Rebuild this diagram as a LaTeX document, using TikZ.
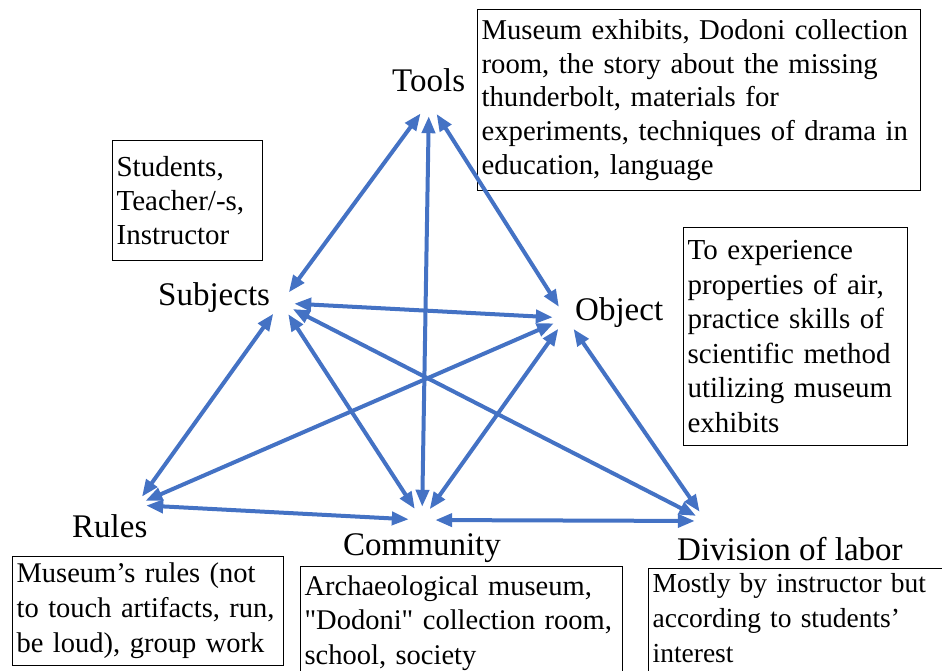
\documentclass[tikz,border=0pt]{standalone}
\usepackage{fontspec}
\setmainfont{Liberation Serif}[Ligatures=TeXOff]
\usetikzlibrary{arrows.meta}
\definecolor{linkblue}{HTML}{4472C4}

\begin{document}
\begin{tikzpicture}[x=1pt, y=-1pt,
  lbl/.style={anchor=base west, inner sep=0pt, font=\fontsize{33}{38}\selectfont},
  infobox/.style={draw, line width=1.2pt, anchor=north west, align=left, inner xsep=4pt, inner ysep=0pt, font=\fontsize{28.5}{34.5}\selectfont},
  vert/.style={circle, inner sep=0pt},
  link/.style={linkblue, line width=4pt, {Triangle[length=17pt,width=13pt]}-{Triangle[length=17pt,width=13pt]}}]
\useasboundingbox (0,0) rectangle (942,671);
\clip (0,0) rectangle (942,671);

%corner labels:
\node[lbl] (toolslbl) at (392,92) {Tools};
\node[lbl] (subjlbl) at (158,305) {Subjects};
\node[lbl] (objlbl) at (575,320) {Object};
\node[lbl] (ruleslbl) at (72,537) {Rules};
\node[lbl] (commlbl) at (343,555) {Community};
\node[lbl] (divlbl) at (677,560) {Division of labor};

%boxes:
\node[infobox, text width=435pt, minimum height=181pt, font=\fontsize{28.7}{33.7}\selectfont] (toolsbox) at (477,9) {Museum exhibits, Dodoni collection\\ room, the story about the missing\\ thunderbolt, materials for\\ experiments, techniques of drama in\\ education, language};
\node[infobox, text width=142pt, minimum height=120pt, font=\fontsize{29}{34}\selectfont] (subjbox) at (112,140) {Students,\\ Teacher/-s,\\ Instructor};
\node[infobox, text width=216pt, minimum height=218pt, font=\fontsize{29}{34.5}\selectfont] (objbox) at (683,227) {To experience\\ properties of air,\\ practice skills of\\ scientific method\\ utilizing museum\\ exhibits};
\node[infobox, text width=263pt, minimum height=109pt, font=\fontsize{28.5}{35}\selectfont] (rulesbox) at (12,556) {Museum’s rules (not\\ to touch artifacts, run,\\ be loud), group work};
\node[infobox, text width=314pt, inner ysep=9pt] (commbox) at (300,566) {Archaeological museum,\\ "Dodoni" collection room,\\ school, society\rule[-40pt]{0pt}{0pt}};
\node[infobox, text width=300pt, inner ysep=5pt, font=\fontsize{27.5}{35}\selectfont] (divbox) at (648,568) {Mostly by instructor but\\ according to students’\\ interest\rule[-40pt]{0pt}{0pt}};

%triangle corners:
\node[vert, minimum size=28pt] (toolsv) at (429,102) {};
\node[vert, minimum size=26pt] (subjv) at (281,303) {};
\node[vert, minimum size=26pt] (objv) at (566,318) {};
\node[vert, minimum size=20pt] (rulesv) at (136,505) {};
\node[vert, minimum size=26pt] (commv) at (422,520) {};
\node[vert, minimum size=22pt] (divv) at (706,521) {};

%links:
\foreach \a/\b in {toolsv/subjv, toolsv/objv, toolsv/commv, subjv/objv, subjv/rulesv, subjv/commv, subjv/divv, objv/rulesv, objv/commv, objv/divv, rulesv/commv, commv/divv} {
	\draw[link] (\a) -- (\b);
}
\end{tikzpicture}
\end{document}
